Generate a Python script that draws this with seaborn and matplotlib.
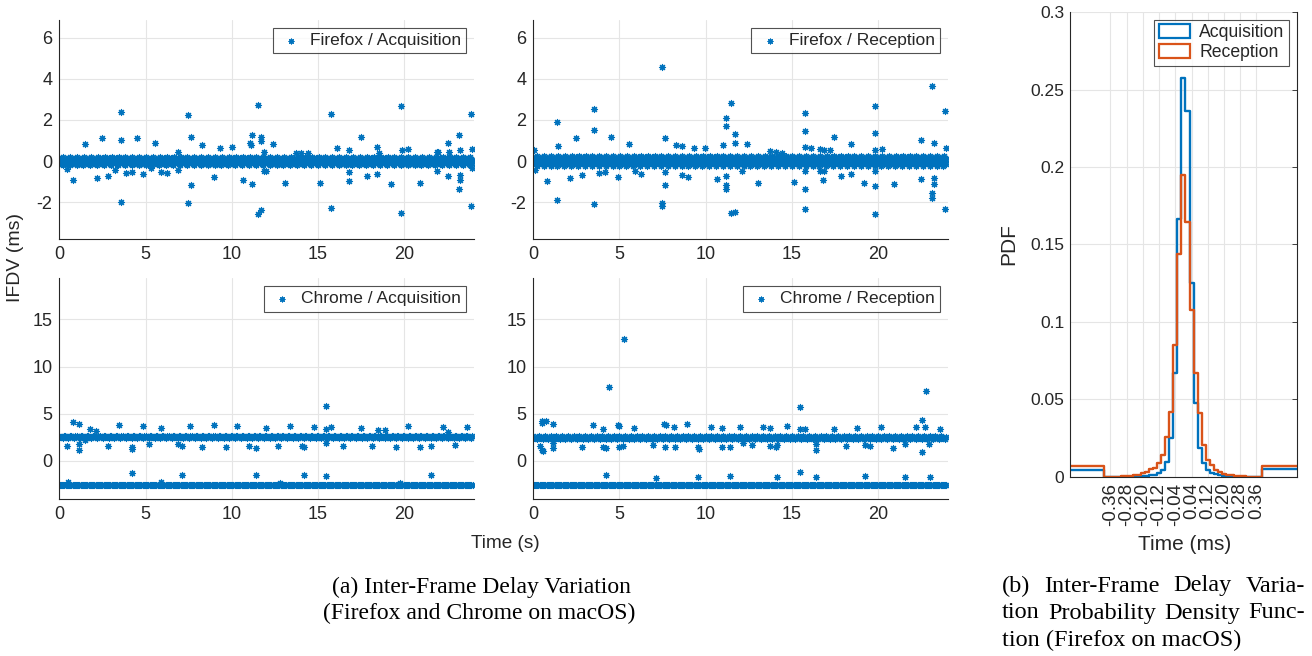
import numpy as np
import pandas as pd
import matplotlib
matplotlib.use('Agg')
import matplotlib.pyplot as plt
import seaborn as sns
from matplotlib.patches import Patch

# capture clock: one IFDV sample per frame
fps = 30
duration = 24

# Firefox / Acquisition: dense band around 0 plus visible outliers
ff_acq_level = 0.0
ff_acq_jitter = [0.0, 0.08, -0.06, 0.14, -0.12, 0.03, -0.17, 0.19, -0.02, 0.1, -0.09, 0.05]
ff_acq_t = [3.57, 3.57, 3.57, 7.47, 7.62, 7.62, 7.47, 11.52, 11.17, 11.67, 11.67, 11.19, 11.52, 11.71,
            15.76, 15.76, 19.83, 19.83, 23.87, 23.87, 23.15, 23.15, 23.25, 23.25, 22.52, 22.52, 17.5,
            19.24, 20.92, 15.09, 13.06, 10.65, 8.97, 2.84, 2.16, 0.81, 1.49, 2.49, 4.53, 5.54, 8.28,
            9.3, 10.01, 12.39, 18.43, 18.43, 17.85, 16.82, 16.82, 16.82, 16.11, 20.2, 19.87, 13.74,
            14.41, 14.03, 23.96, 21.94, 5.92, 6.25, 6.89, 6.89, 5.34, 4.86, 4.19, 3.86, 0.46, 3.22,
            11.04, 11.13, 11.87, 12.0, 11.87, 18.52, 21.9, 21.88, 22.61, 23.25, 23.92]
ff_acq_v = [2.4, 1.02, -1.98, 2.24, 1.15, -1.17, -2.03, 2.71, 1.27, 1.19, 0.99, -1.1, -2.55, -2.39,
            2.29, -2.26, 2.65, -2.52, 2.29, -2.19, 1.28, -1.36, -0.93, -0.68, 0.89, -0.73, 1.19,
            -1.09, -1.06, -1.06, -1.06, -0.93, -0.76, -0.73, -0.81, -0.93, 0.81, 1.14, 1.14, 0.86, 0.78,
            0.62, 0.68, 0.84, 0.7, -0.63, -0.73, 0.55, -0.96, -0.52, 0.65, 0.58, 0.55, 0.39,
            0.37, 0.37, 0.57, 0.45, -0.52, -0.6, -0.44, 0.45, -0.32, -0.63, -0.52, -0.57, -0.39, -0.41,
            0.86, 0.78, 0.45, -0.47, -0.47, 0.37, -0.47, 0.45, 0.45, 0.54, -0.32]

# Firefox / Reception
ff_rec_level = 0.0
ff_rec_jitter = [0.0, 0.12, -0.1, 0.2, -0.16, 0.05, -0.24, 0.26, -0.04, 0.15, -0.13, 0.08]
ff_rec_t = [7.44, 23.15, 11.46, 15.75, 19.81, 23.86, 3.54, 1.35, 11.17, 11.17, 11.69, 11.69, 3.5, 15.75,
            19.81, 22.51, 17.45, 7.63, 4.5, 2.47, 1.45, 5.55, 8.27, 8.6, 9.31, 9.95, 11.01, 12.37,
            13.72, 14.11, 14.43, 16.14, 16.62, 16.87, 17.2, 18.45, 19.81, 20.23, 23.25, 23.96, 0.06,
            15.75, 1.35, 3.54, 7.44, 7.44, 11.46, 11.69, 15.75, 19.81, 23.86, 23.15, 23.15, 23.25,
            23.25, 15.75, 19.81, 7.63, 11.17, 11.17, 11.17, 10.67, 13.04, 15.11, 16.81, 19.19, 20.91,
            22.51, 0.77, 2.13, 2.8, 3.83, 4.15, 4.89, 6.24, 5.89, 8.6, 8.95, 7.63, 16.62, 16.87,
            17.84, 18.45, 19.81, 15.75, 0.1, 12.08]
ff_rec_v = [4.56, 3.65, 2.84, 2.35, 2.68, 2.44, 2.52, 1.88, 2.11, 1.7, 1.3, 0.86, 1.51, 1.48,
            1.35, 1.02, 1.19, 1.14, 1.15, 1.1, 0.75, 0.81, 0.78, 0.73, 0.62, 0.65, 0.78, 0.81,
            0.49, 0.42, 0.41, 0.62, 0.57, 0.54, 0.54, 0.81, 0.54, 0.58, 0.86, 0.65, 0.54,
            0.7, -1.9, -2.09, -2.06, -2.19, -2.52, -2.47, -2.34, -2.55, -2.31, -1.57, -1.77, -1.09,
            -0.8, -1.36, -1.2, -1.17, -1.17, -1.36, -0.71, -0.89, -1.06, -1.01, -0.93, -1.06, -1.12,
            -0.88, -0.97, -0.81, -0.68, -0.6, -0.55, -0.76, -0.65, -0.47, -0.68, -0.76, -0.55, -0.49, -0.49,
            -0.71, -0.63, -0.47, -0.49, -0.44, -0.49]

# Chrome / Acquisition: frames alternate between two levels
ch_acq_levels = [2.62, -2.62]
ch_acq_up_jitter = [0.0, 0.1, -0.08, 0.16, -0.13, 0.04, -0.2, 0.2, -0.03, 0.12]
ch_acq_low_jitter = [0.0, 0.04, -0.03, 0.07, -0.06, 0.02]
ch_acq_t = [15.44, 0.77, 1.14, 1.78, 2.12, 3.47, 4.86, 5.87, 7.57, 8.96, 10.31, 12.01, 13.4, 14.75,
            15.44, 15.77, 17.47, 18.47, 18.86, 20.21, 22.24, 22.53, 23.63, 0.42, 1.14, 1.14, 1.49,
            2.8, 4.23, 4.23, 5.19, 6.89, 7.14, 8.26, 9.65, 11.0, 11.43, 12.7, 14.09, 14.17, 15.44,
            16.45, 18.15, 19.54, 20.89, 21.56, 22.95, 4.23, 7.14, 11.43, 14.17, 15.48, 21.58, 5.87,
            0.52, 12.78, 19.73]
ch_acq_v = [5.85, 4.08, 3.87, 3.4, 3.19, 3.76, 3.65, 3.48, 3.72, 3.79, 3.65, 3.51, 3.65, 3.62,
            3.33, 3.55, 3.44, 3.23, 3.23, 3.65, 3.58, 3.09, 3.55, 1.6, 1.77, 1.13, 2.2,
            1.56, 1.49, 1.31, 1.81, 1.77, 1.56, 1.49, 1.49, 1.56, 1.38, 1.6, 1.56, 1.49, 1.88,
            1.6, 1.6, 1.52, 1.45, 1.56, 1.7, -1.31, -1.52, -1.45, -1.49, -1.6, -1.52, -2.2,
            -2.27, -2.3, -2.3]

# Chrome / Reception
ch_rec_levels = [2.62, -2.62]
ch_rec_up_jitter = [0.0, 0.18, -0.14, 0.28, -0.22, 0.07, -0.3, 0.3, -0.05, 0.2]
ch_rec_low_jitter = [0.0, 0.05, -0.04, 0.09, -0.07, 0.02]
ch_rec_t = [5.29, 4.39, 22.76, 15.46, 22.55, 0.48, 0.71, 0.48, 1.12, 3.48, 4.06, 4.89, 4.97, 5.86,
            7.59, 7.67, 8.14, 8.93, 10.3, 10.92, 12.02, 13.35, 13.72, 14.72, 15.46, 15.75, 17.45,
            18.8, 20.19, 22.22, 22.74, 23.59, 0.39, 0.48, 0.58, 1.12, 1.12, 2.8, 4.06, 4.19, 4.97,
            5.18, 6.92, 7.63, 8.21, 9.53, 9.6, 10.92, 11.4, 12.14, 12.68, 13.72, 14.07, 14.16,
            16.39, 16.39, 18.13, 19.23, 19.52, 20.87, 21.55, 22.55, 22.94, 4.21, 7.11, 9.53, 11.4,
            14.14, 15.46, 16.43, 19.27, 21.55, 22.99]
ch_rec_v = [12.91, 7.87, 7.41, 5.67, 4.33, 4.26, 4.22, 3.97, 3.94, 3.83, 3.4, 3.76, 3.69, 3.51,
            3.87, 3.76, 3.55, 3.9, 3.58, 3.51, 3.58, 3.62, 3.51, 3.65, 3.4, 3.33, 3.4,
            3.48, 3.58, 3.62, 3.58, 3.33, 1.6, 1.21, 1.03, 1.38, 1.88, 1.52, 1.49, 1.42, 1.45,
            1.63, 1.7, 1.49, 1.49, 1.49, 1.28, 1.49, 1.45, 1.91, 1.67, 1.63, 1.45, 1.67,
            1.21, 1.84, 1.6, 1.67, 1.6, 1.42, 1.77, 0.92, 1.77, -1.45, -1.77, -1.67, -1.6,
            -1.7, -1.21, -1.67, -1.6, -1.7, -1.74]

# PDF histogram (Firefox), 0.02 ms bins centred on multiples of 0.02, plus overflow bins
hist_inner_edges = np.round(np.arange(-0.39, 0.391, 0.02), 2)
hist_outer = 0.56
pdf_acq = [0.0047,
           0.0, 0.0, 0.0, 0.0001, 0.0001, 0.0001, 0.0002, 0.0002, 0.0003, 0.0004,
           0.0006, 0.001, 0.0013, 0.0028, 0.0045, 0.0099, 0.025, 0.0669, 0.1665, 0.2576,
           0.2361, 0.1254, 0.0475, 0.0185, 0.0092, 0.0045, 0.0028, 0.0017, 0.001, 0.0007,
           0.0005, 0.0003, 0.0002, 0.0002, 0.0001, 0.0001, 0.0, 0.0, 0.0,
           0.0051]
pdf_rec = [0.0069,
           0.0001, 0.0001, 0.0002, 0.0003, 0.0004, 0.0006, 0.0008, 0.001, 0.0014, 0.0024,
           0.003, 0.005, 0.006, 0.0092, 0.0142, 0.026, 0.042, 0.085, 0.1439, 0.1948,
           0.1643, 0.108, 0.0669, 0.0415, 0.0206, 0.011, 0.0077, 0.0045, 0.003, 0.0017,
           0.0014, 0.0012, 0.0008, 0.0006, 0.0004, 0.0003, 0.0002, 0.0001, 0.0001,
           0.007]
hist_xticks = [-0.36, -0.28, -0.20, -0.12, -0.04, 0.04, 0.12, 0.20, 0.28, 0.36]

blue = '#0072BD'
orange = '#D95319'
dark = '#262626'
grid_c = '#e5e5e5'

sns.set_style('white')
plt.rcParams['font.family'] = ['Liberation Sans', 'DejaVu Sans']
plt.rcParams['axes.edgecolor'] = dark
plt.rcParams['axes.linewidth'] = 0.8
plt.rcParams['axes.unicode_minus'] = False

asterisk = (8, 2, 0)
W, H = 1312, 656


def band_frame(level_list, jitter_list, t_out, v_out):
    frame_t = np.arange(0, duration, 1 / fps)
    n = len(frame_t)
    vals = np.resize(level_list, n) + np.resize(jitter_list, n)
    t = np.concatenate([frame_t, t_out])
    v = np.concatenate([vals, v_out])
    return pd.DataFrame({'t': t, 'v': v})


def chrome_frame(levels, up_jit, low_jit, t_out, v_out):
    frame_t = np.arange(0, duration, 1 / fps)
    n = len(frame_t)
    up = np.resize(up_jit, n)
    low = np.resize(low_jit, n)
    even = np.arange(n) % 2 == 0
    vals = np.where(even, levels[0] + up, levels[1] + low)
    t = np.concatenate([frame_t, t_out])
    v = np.concatenate([vals, v_out])
    return pd.DataFrame({'t': t, 'v': v})


def style_scatter(ax, ylim, yticks):
    ax.set_xlim(0, 24.05)
    ax.set_ylim(*ylim)
    ax.set_xticks([0, 5, 10, 15, 20])
    ax.set_yticks(yticks)
    ax.set_xlabel('')
    ax.set_ylabel('')
    ax.grid(True, color=grid_c, lw=0.8)
    ax.set_axisbelow(True)
    for s in ['top', 'right']:
        ax.spines[s].set_visible(False)
    ax.tick_params(direction='in', length=3.5, width=0.6, color=dark, labelcolor=dark,
                   labelsize=13, pad=5)
    leg = ax.legend(loc='upper right', fontsize=12.5, frameon=True, fancybox=False,
                    borderaxespad=0.45, handletextpad=0.35, handlelength=1.5,
                    borderpad=0.3, markerscale=0.8)
    leg.get_frame().set_edgecolor(dark)
    leg.get_frame().set_linewidth(0.8)


def justified(fig, text, x0, x1, y, **kw):
    # spread the words of one caption line over [x0, x1] pixels
    renderer = fig.canvas.get_renderer()
    words = text.split()
    items = [fig.text(0, 1 - y / H, w, va='center', ha='left', **kw) for w in words]
    widths = [t.get_window_extent(renderer).width for t in items]
    gap = (x1 - x0 - sum(widths)) / (len(words) - 1)
    x = x0
    for t, w in zip(items, widths):
        t.set_x(x / W)
        x += w + gap


fig = plt.figure(figsize=(13.12, 6.56), dpi=100)
ax_fa = fig.add_axes([0.0452, 0.6352, 0.3161, 0.3343])
ax_fr = fig.add_axes([0.4065, 0.6352, 0.3159, 0.3343])
ax_ca = fig.add_axes([0.0452, 0.2398, 0.3161, 0.3360])
ax_cr = fig.add_axes([0.4065, 0.2398, 0.3159, 0.3360])
ax_h = fig.add_axes([0.8155, 0.2729, 0.1730, 0.7088])

panels = [
    (ax_fa, band_frame([ff_acq_level], ff_acq_jitter, ff_acq_t, ff_acq_v), 'Firefox / Acquisition', (-3.8, 6.85), [-2, 0, 2, 4, 6]),
    (ax_fr, band_frame([ff_rec_level], ff_rec_jitter, ff_rec_t, ff_rec_v), 'Firefox / Reception', (-3.8, 6.85), [-2, 0, 2, 4, 6]),
    (ax_ca, chrome_frame(ch_acq_levels, ch_acq_up_jitter, ch_acq_low_jitter, ch_acq_t, ch_acq_v), 'Chrome / Acquisition', (-4.0, 19.35), [0, 5, 10, 15]),
    (ax_cr, chrome_frame(ch_rec_levels, ch_rec_up_jitter, ch_rec_low_jitter, ch_rec_t, ch_rec_v), 'Chrome / Reception', (-4.0, 19.35), [0, 5, 10, 15]),
]
for ax, df, label, ylim, yticks in panels:
    sns.scatterplot(data=df, x='t', y='v', ax=ax, marker=asterisk, s=19, color=blue,
                    linewidth=0.85, label=label)
    style_scatter(ax, ylim, yticks)

# histogram drawn from per-bin PDF values
edges = [-hist_outer] + list(hist_inner_edges) + [hist_outer]
centers = [(a + b) / 2 for a, b in zip(edges[:-1], edges[1:])]
hist_df = pd.DataFrame({'center': centers, 'acq': pdf_acq, 'rec': pdf_rec})
sns.histplot(data=hist_df, x='center', weights='acq', bins=edges, element='step', fill=False,
             color=blue, linewidth=1.7, ax=ax_h)
sns.histplot(data=hist_df, x='center', weights='rec', bins=edges, element='step', fill=False,
             color=orange, linewidth=1.7, ax=ax_h)
ax_h.set_xlim(-hist_outer, hist_outer)
ax_h.set_ylim(0, 0.3)
ax_h.set_xticks(hist_xticks)
ax_h.set_xticklabels(['%.2f' % v for v in hist_xticks], rotation=90, fontsize=13.5)
ax_h.set_yticks([0, 0.05, 0.1, 0.15, 0.2, 0.25, 0.3])
ax_h.set_yticklabels(['0', '0.05', '0.1', '0.15', '0.2', '0.25', '0.3'], fontsize=12.5)
ax_h.grid(True, color=grid_c, lw=0.8)
ax_h.set_axisbelow(True)
ax_h.spines['top'].set_visible(False)
ax_h.tick_params(direction='in', length=3.5, width=0.6, color=dark, labelcolor=dark,
                 pad=4, right=True)
ax_h.set_xlabel('Time (ms)', fontsize=15, color=dark)
ax_h.xaxis.set_label_coords(0.507, -0.125)
ax_h.set_ylabel('PDF', fontsize=15, color=dark)
ax_h.yaxis.set_label_coords(-0.228, 0.5)
hleg = ax_h.legend(handles=[Patch(facecolor='white', edgecolor=blue, lw=1.6, label='Acquisition'),
                            Patch(facecolor='white', edgecolor=orange, lw=1.6, label='Reception')],
                   loc='upper right', fontsize=12.7, frameon=True, fancybox=False,
                   borderaxespad=0.45, handlelength=1.8, handleheight=0.85, handletextpad=0.5,
                   borderpad=0.25, labelspacing=0.15)
hleg.get_frame().set_edgecolor(dark)
hleg.get_frame().set_linewidth(0.8)

fig.text(15.5 / W, 1 - 258 / H, 'IFDV (ms)', rotation=90, ha='center', va='center',
         fontsize=14, color=dark)
fig.text(505 / W, 1 - 543 / H, 'Time (s)', ha='center', va='center', fontsize=13.7, color=dark)

serif = ['Liberation Serif', 'DejaVu Serif']
fig.text(481 / W, 1 - 587 / H, '(a) Inter-Frame Delay Variation', ha='center', va='center',
         fontsize=17, family=serif, color='black')
fig.text(479 / W, 1 - 613.5 / H, '(Firefox and Chrome on macOS)', ha='center', va='center',
         fontsize=17, family=serif, color='black')
justified(fig, '(b) Inter-Frame Delay Varia-', 1002, 1305, 586, fontsize=17.5, family=serif, color='black')
justified(fig, 'tion Probability Density Func-', 1002, 1305, 613, fontsize=17.5, family=serif, color='black')
fig.text(1002 / W, 1 - 640 / H, 'tion (Firefox on macOS)', ha='left', va='center',
         fontsize=17.5, family=serif, color='black')

fig.savefig('out.png', dpi=100)
